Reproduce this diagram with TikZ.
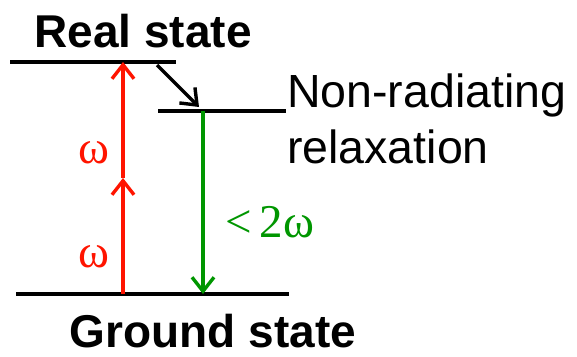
\documentclass[tikz,border=0pt]{standalone}
\usepackage{fontspec}
\setmainfont{Liberation Sans}
\newfontfamily\serifgr{Liberation Serif}
\usetikzlibrary{arrows.meta}
\definecolor{myred}{RGB}{255,20,0}
\definecolor{mygreen}{RGB}{0,150,0}
\begin{document}
\begin{tikzpicture}[x=1pt,y=-1pt,
  level/.style={line width=3.8pt},
  arr/.style={line width=3.4pt,-{Straight Barb[length=14pt,width=22pt,line width=3.4pt]}},
  lab/.style={font=\fontsize{44}{50}\selectfont, inner sep=0pt},
  greek/.style={font=\serifgr\fontsize{47}{50}\selectfont, inner sep=0pt}]
\useasboundingbox (0,0) rectangle (577,356);
% levels
\coordinate (r1) at (10,62); \coordinate (r2) at (176,62);
\coordinate (m1) at (158,111); \coordinate (m2) at (286,111);
\coordinate (g1) at (16,294); \coordinate (g2) at (289,294);
\draw[level] (r1) -- (r2);
\draw[level] (m1) -- (m2);
\draw[level] (g1) -- (g2);
% arrows
\coordinate (ra) at (123,294); \coordinate (rb) at (123,178); \coordinate (rc) at (123,62);
\draw[arr,myred] (ra) -- (rb);
\draw[arr,myred] (rb) -- (rc);
\coordinate (ga) at (203,111); \coordinate (gb) at (203,294);
\draw[arr,mygreen] (ga) -- (gb);
\coordinate (da) at (157,65); \coordinate (db) at (199,107);
\draw[arr,black] (da) -- (db);
% texts
\node[lab,font=\bfseries\fontsize{46}{50}\selectfont,anchor=base] (real) at (143,47) {Real state};
\node[lab,font=\bfseries\fontsize{46}{50}\selectfont,anchor=base] (ground) at (213,347) {Ground state};
\node[lab,font=\fontsize{46.5}{50}\selectfont,anchor=base west] (nr1) at (287,107) {Non-radiating};
\node[lab,font=\fontsize{46.5}{50}\selectfont,anchor=base west] (nr2) at (287,163) {relaxation};
\node[greek,myred,anchor=base] (w1) at (94,163) {ω};
\node[greek,myred,anchor=base] (w2) at (94,267) {ω};
\node[greek,mygreen,anchor=base west] (w3) at (225,237) {<\,2ω};
\end{tikzpicture}
\end{document}
